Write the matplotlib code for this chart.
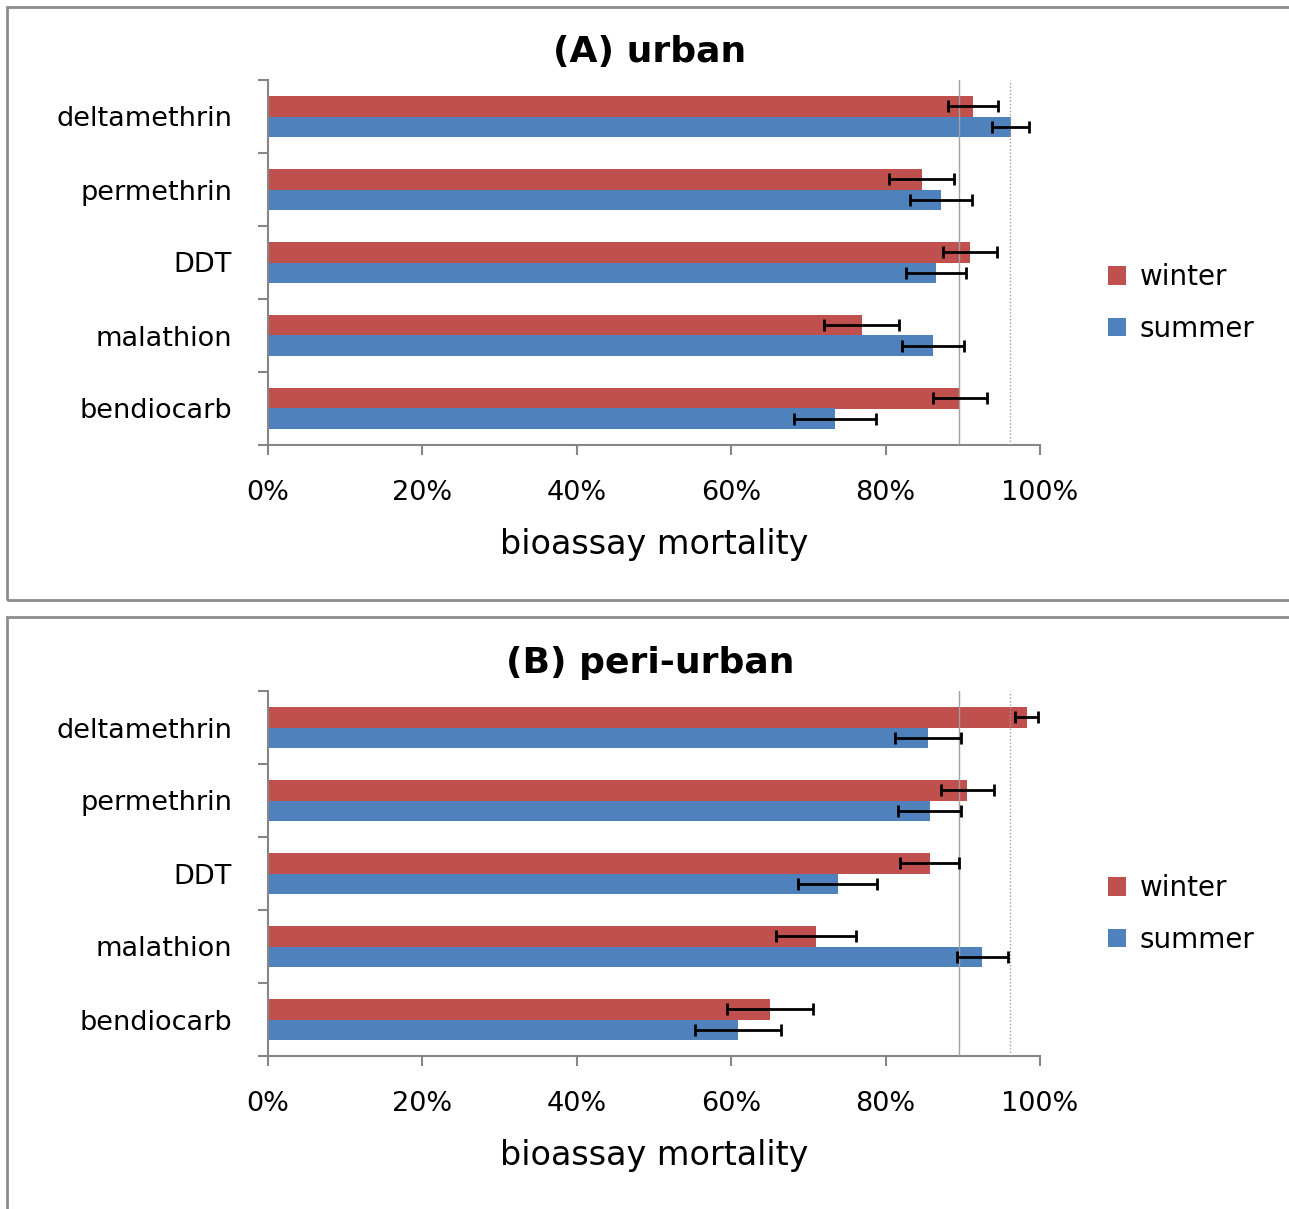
import numpy as np
import matplotlib
matplotlib.use("Agg")
import matplotlib.pyplot as plt
from matplotlib.patches import Rectangle

insecticides = ['deltamethrin', 'permethrin', 'DDT', 'malathion', 'bendiocarb']

# panel A - urban
urban_winter = [91.3, 84.7, 90.9, 76.9, 89.6]
urban_winter_err = [3.2, 4.2, 3.5, 4.9, 3.5]
urban_summer = [96.2, 87.2, 86.5, 86.1, 73.4]
urban_summer_err = [2.4, 4.0, 3.9, 4.0, 5.3]

# panel B - peri-urban
peri_winter = [98.3, 90.6, 85.7, 71.0, 65.0]
peri_winter_err = [1.5, 3.4, 3.8, 5.2, 5.6]
peri_summer = [85.5, 85.7, 73.8, 92.5, 60.9]
peri_summer_err = [4.3, 4.1, 5.1, 3.3, 5.6]

ref_lines = [89.5, 96.1]

red = '#C0504D'
blue = '#4F81BD'
grey = '#868686'

W, H = 1289, 1209
fig = plt.figure(figsize=(W / 100, H / 100), dpi=100)
plt.rcParams['font.family'] = 'DejaVu Sans'


def fx(px):
    return px / W


def fy(py):
    return 1 - py / H


def panel(top, title, winter, werr, summer, serr, frame_top, frame_bot):
    fig.patches.append(Rectangle((fx(7), fy(frame_bot)), fx(1289 - 7) + 0.01, fy(frame_top) - fy(frame_bot),
                                 transform=fig.transFigure, fill=False, edgecolor='#8c8c8c', lw=2))
    ax = fig.add_axes([fx(268), fy(top + 365), fx(772), 365 / H])
    n = len(insecticides)
    y = np.arange(n)[::-1]
    h = 0.28
    ax.barh(y + h / 2, winter, height=h, color=red, label='winter', zorder=2)
    ax.barh(y - h / 2, summer, height=h, color=blue, label='summer', zorder=2)
    ax.errorbar(winter, y + h / 2, xerr=werr, fmt='none', ecolor='black', elinewidth=2,
                capsize=4.3, capthick=2, zorder=4)
    ax.errorbar(summer, y - h / 2, xerr=serr, fmt='none', ecolor='black', elinewidth=2,
                capsize=4.3, capthick=2, zorder=4)
    ax.axvline(ref_lines[0], color='#a0a0a0', lw=1, zorder=3)
    ax.axvline(ref_lines[1], color='#a0a0a0', lw=1, ls=(0, (1, 1.5)), zorder=3)
    ax.set_xlim(0, 100)
    ax.set_ylim(-0.5, n - 0.5)
    ax.set_xticks(np.arange(0, 101, 20))
    ax.set_xticklabels(['%d%%' % v for v in range(0, 101, 20)], fontsize=19.5)
    ax.set_yticks(y)
    ax.set_yticklabels(insecticides, fontsize=19.5)
    ax.set_yticks(np.arange(-0.5, n), minor=True)
    ax.tick_params(axis='y', which='major', length=0, pad=26)
    ax.tick_params(axis='y', which='minor', length=7, color=grey, width=1.5)
    ax.tick_params(axis='x', length=7, color=grey, width=1.5, pad=18)
    for s in ['top', 'right']:
        ax.spines[s].set_visible(False)
    for s in ['left', 'bottom']:
        ax.spines[s].set_color(grey)
        ax.spines[s].set_linewidth(1.5)
    ax.set_xlabel('bioassay mortality', fontsize=24, labelpad=16)
    fig.text(fx(650), fy(top - 28), title, fontsize=26, fontweight='bold', ha='center', va='center')
    fig.legend(*ax.get_legend_handles_labels(), loc='center left',
               bbox_to_anchor=(fx(1083), fy(top + 223)), frameon=False, fontsize=20,
               handlelength=0.65, handleheight=0.65, labelspacing=0.85, handletextpad=0.5)
    return ax


panel(80, '(A) urban', urban_winter, urban_winter_err, urban_summer, urban_summer_err, 7, 600)
panel(691, '(B) peri-urban', peri_winter, peri_winter_err, peri_summer, peri_summer_err, 617, 1215)

fig.savefig('out.png', dpi=100)
